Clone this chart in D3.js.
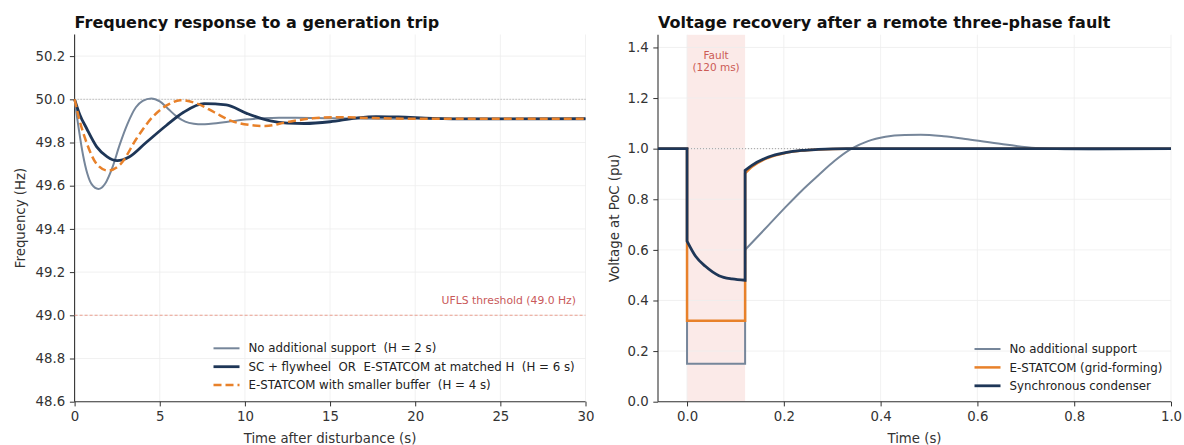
<!DOCTYPE html>
<html>
<head>
<meta charset="utf-8">
<script src="https://cdn.jsdelivr.net/npm/d3@7"></script>
<style>
  body { margin: 0; background: #fff; }
  svg text { font-family: "DejaVu Sans", sans-serif; white-space: pre; }
</style>
</head>
<body>
<svg id="chart" width="1184" height="445"></svg>
<script>
// Frequency panel: [time s, Hz]
var freqNoSupport = [[0,50.0],[0.25,49.86],[0.5,49.74],[0.75,49.655],[1.0,49.607],[1.4,49.585],[1.8,49.61],[2.2,49.68],[2.65,49.79],[3.1,49.885],[3.6,49.963],[4.0,49.993],[4.5,50.004],[5.0,49.99],[5.5,49.955],[6.0,49.92],[6.5,49.897],[7.0,49.887],[7.5,49.884],[8.0,49.887],[9.0,49.896],[10,49.906],[11,49.912],[12,49.915],[13,49.915],[15,49.912],[18,49.91],[30,49.91]];
var freqMatched = [[0,50.0],[0.3,49.93],[0.7,49.866],[1.3,49.78],[1.9,49.735],[2.5,49.716],[3.2,49.733],[4.2,49.80],[5.4,49.88],[6.4,49.94],[7.6,49.98],[8.9,49.974],[10.1,49.935],[11.5,49.90],[12.5,49.89],[13.5,49.888],[15,49.896],[16.5,49.913],[17.7,49.92],[19,49.918],[21,49.912],[23,49.909],[30,49.91]];
var freqSmallBuffer = [[0,50.0],[0.3,49.90],[0.7,49.80],[1.3,49.70],[1.95,49.67],[2.7,49.70],[3.65,49.82],[4.6,49.92],[5.6,49.98],[6.2,49.996],[7.2,49.98],[8.2,49.94],[9.2,49.90],[10.3,49.881],[11.2,49.876],[12.5,49.895],[14,49.912],[15.5,49.917],[17.5,49.913],[20,49.91],[30,49.91]];
var freqLabels = ['No additional support  (H = 2 s)', 'SC + flywheel  OR  E-STATCOM at matched H  (H = 6 s)', 'E-STATCOM with smaller buffer  (H = 4 s)'];
var freqTicksX = [0, 5, 10, 15, 20, 25, 30];
var freqTicksY = [48.6, 48.8, 49.0, 49.2, 49.4, 49.6, 49.8, 50.0, 50.2];
var nominalHz = 50.0, uflsHz = 49.0;

// Voltage panel: [time s, pu]; repeated times are the step jumps
var voltNoSupport = [[-0.06,1.0],[0,1.0],[0,0.15],[0.12,0.15],[0.12,0.60],[0.168,0.697],[0.203,0.768],[0.237,0.834],[0.271,0.894],[0.305,0.952],[0.34,1.0],[0.374,1.03],[0.41,1.047],[0.45,1.054],[0.483,1.055],[0.53,1.049],[0.58,1.037],[0.65,1.018],[0.72,1.003],[0.78,0.998],[0.85,0.997],[1.0,0.999]];
var voltStatcom = [[-0.06,1.0],[0,1.0],[0,0.32],[0.12,0.32],[0.12,0.902],[0.134,0.928],[0.168,0.964],[0.203,0.983],[0.237,0.992],[0.271,0.997],[0.33,1.0],[1.0,1.0]];
var voltCondenser = [[-0.06,1.0],[0,1.0],[0,0.635],[0.0177,0.575],[0.038,0.535],[0.066,0.498],[0.093,0.485],[0.12,0.48],[0.12,0.914],[0.134,0.934],[0.168,0.967],[0.203,0.984],[0.237,0.993],[0.271,0.997],[0.33,1.0],[1.0,1.0]];
var voltLabels = ['No additional support', 'E-STATCOM (grid-forming)', 'Synchronous condenser'];
var voltTicksX = [0.0, 0.2, 0.4, 0.6, 0.8, 1.0];
var voltTicksY = [0.0, 0.2, 0.4, 0.6, 0.8, 1.0, 1.2, 1.4];
var faultStart = 0.0, faultEnd = 0.12;

var colGray = '#76869a', colNavy = '#1e3657', colOrange = '#e8812a';
var tickFont = '13.3px', legendFont = '11.8px';

var svg = d3.select('#chart');

// draw a series made of smooth pieces joined by vertical steps
var stepPath = function (data, x, y) {
  let pieces = [[data[0]]];
  for (let i = 1; i < data.length; i++) {
    if (data[i][0] === data[i - 1][0]) pieces.push([]);
    pieces[pieces.length - 1].push(data[i]);
  }
  let line = d3.line().x(d => x(d[0])).y(d => y(d[1])).curve(d3.curveMonotoneX);
  return pieces.map((p, i) => {
    let s = p.length > 1 ? line(p) : `M${x(p[0][0])},${y(p[0][1])}`;
    return i ? 'L' + s.slice(1) : s;
  }).join('');
};

var drawAxes = function (g, x, y, ticksX, ticksY, fmtX, fmtY) {
  let [x0, x1] = x.range(), [y0, y1] = y.range();
  g.append('g').selectAll('line').data(ticksX).join('line')
    .attr('x1', d => x(d)).attr('x2', d => x(d)).attr('y1', y0).attr('y2', y1)
    .attr('stroke', '#ededed').attr('stroke-width', 0.8);
  g.append('g').selectAll('line').data(ticksY).join('line')
    .attr('x1', x0).attr('x2', x1).attr('y1', d => y(d)).attr('y2', d => y(d))
    .attr('stroke', '#ededed').attr('stroke-width', 0.8);

  let ax = g.append('g').attr('transform', `translate(0,${y0})`)
    .call(d3.axisBottom(x).tickValues(ticksX).tickFormat(fmtX).tickSize(4.7).tickPadding(5.5));
  let ay = g.append('g').attr('transform', `translate(${x0},0)`)
    .call(d3.axisLeft(y).tickValues(ticksY).tickFormat(fmtY).tickSize(4.7).tickPadding(4.7));
  [ax, ay].forEach(a => {
    a.select('.domain').attr('stroke', '#333').attr('stroke-width', 1.1);
    a.selectAll('.tick line').attr('stroke', '#333');
    a.selectAll('.tick text').attr('fill', '#333').style('font-size', tickFont);
  });
  ay.select('.domain').attr('d', `M0,${y0}V${y1}`);
  ax.select('.domain').attr('d', `M${x0},0H${x1}`);
};

var drawLegend = function (g, x, y, items) {
  items.forEach((it, i) => {
    let yy = y + i * 18.4;
    g.append('line').attr('x1', x).attr('x2', x + 26).attr('y1', yy).attr('y2', yy)
      .attr('stroke', it.color).attr('stroke-width', it.width).attr('stroke-dasharray', it.dash || null);
    g.append('text').attr('x', x + 35).attr('y', yy).attr('dy', '0.35em')
      .attr('fill', '#222').style('font-size', legendFont).text(it.label);
  });
};

// ---- left panel: frequency ----
var fx = d3.scaleLinear().domain([0, 30]).range([74.6, 585.5]);
var fy = d3.scaleLinear().domain([48.6, 50.3]).range([401.7, 34.5]);
var left = svg.append('g');

drawAxes(left, fx, fy, freqTicksX, freqTicksY, d3.format('d'), d3.format('.1f'));

left.append('line').attr('x1', fx(0)).attr('x2', fx(30)).attr('y1', fy(nominalHz)).attr('y2', fy(nominalHz))
  .attr('stroke', '#a0a0a0').attr('stroke-width', 1).attr('stroke-dasharray', '1,2');
left.append('line').attr('x1', fx(0)).attr('x2', fx(30)).attr('y1', fy(uflsHz)).attr('y2', fy(uflsHz))
  .attr('stroke', '#eb9f8f').attr('stroke-width', 1.1).attr('stroke-dasharray', '3,2');
left.append('text').attr('x', 576).attr('y', fy(uflsHz) - 11).attr('text-anchor', 'end')
  .attr('fill', '#c9595a').style('font-size', '10.8px').text('UFLS threshold (49.0 Hz)');

var fLine = d3.line().x(d => fx(d[0])).y(d => fy(d[1])).curve(d3.curveMonotoneX);
left.append('path').attr('d', fLine(freqNoSupport)).attr('fill', 'none').attr('stroke', colGray).attr('stroke-width', 2);
left.append('path').attr('d', fLine(freqMatched)).attr('fill', 'none').attr('stroke', colNavy).attr('stroke-width', 2.8);
left.append('path').attr('d', fLine(freqSmallBuffer)).attr('fill', 'none').attr('stroke', colOrange).attr('stroke-width', 2.5).attr('stroke-dasharray', '8,4');

drawLegend(left, 213.5, 348.3, [
  {label: freqLabels[0], color: colGray, width: 2},
  {label: freqLabels[1], color: colNavy, width: 2.8},
  {label: freqLabels[2], color: colOrange, width: 2.5, dash: '8,4'}
]);

left.append('text').attr('x', 74.6).attr('y', 28).attr('fill', '#111')
  .style('font-size', '16px').style('font-weight', 'bold').text('Frequency response to a generation trip');
left.append('text').attr('x', fx(15)).attr('y', 443).attr('text-anchor', 'middle')
  .attr('fill', '#333').style('font-size', tickFont).text('Time after disturbance (s)');
left.append('text').attr('transform', `translate(25,218) rotate(-90)`).attr('text-anchor', 'middle')
  .attr('fill', '#333').style('font-size', tickFont).text('Frequency (Hz)');

// ---- right panel: voltage ----
var vx = d3.scaleLinear().domain([-0.06, 1.0]).range([658, 1171]);
var vy = d3.scaleLinear().domain([0, 1.45]).range([401.7, 34.8]);
var right = svg.append('g');

right.append('rect').attr('x', vx(faultStart)).attr('y', vy(1.45)).attr('width', vx(faultEnd) - vx(faultStart))
  .attr('height', vy(0) - vy(1.45)).attr('fill', '#fbeae8');

drawAxes(right, vx, vy, voltTicksX, voltTicksY, d3.format('.1f'), d3.format('.1f'));

right.append('line').attr('x1', vx(-0.06)).attr('x2', vx(1.0)).attr('y1', vy(1.0)).attr('y2', vy(1.0))
  .attr('stroke', '#a0a0a0').attr('stroke-width', 1).attr('stroke-dasharray', '1,2');
right.append('text').attr('x', vx((faultStart + faultEnd) / 2)).attr('y', 59).attr('text-anchor', 'middle')
  .attr('fill', '#cc5b55').style('font-size', '10.5px').text('Fault');
right.append('text').attr('x', vx((faultStart + faultEnd) / 2)).attr('y', 71).attr('text-anchor', 'middle')
  .attr('fill', '#cc5b55').style('font-size', '10.5px').text('(120 ms)');

right.append('path').attr('d', stepPath(voltNoSupport, vx, vy)).attr('fill', 'none').attr('stroke', colGray).attr('stroke-width', 2);
right.append('path').attr('d', stepPath(voltStatcom, vx, vy)).attr('fill', 'none').attr('stroke', colOrange).attr('stroke-width', 2.5);
right.append('path').attr('d', stepPath(voltCondenser, vx, vy)).attr('fill', 'none').attr('stroke', colNavy).attr('stroke-width', 2.8);

drawLegend(right, 974.5, 349, [
  {label: voltLabels[0], color: colGray, width: 2},
  {label: voltLabels[1], color: colOrange, width: 2.5},
  {label: voltLabels[2], color: colNavy, width: 2.8}
]);

right.append('text').attr('x', 658).attr('y', 28).attr('fill', '#111')
  .style('font-size', '16px').style('font-weight', 'bold').text('Voltage recovery after a remote three-phase fault');
right.append('text').attr('x', vx(0.47)).attr('y', 443).attr('text-anchor', 'middle')
  .attr('fill', '#333').style('font-size', tickFont).text('Time (s)');
right.append('text').attr('transform', `translate(619,218) rotate(-90)`).attr('text-anchor', 'middle')
  .attr('fill', '#333').style('font-size', tickFont).text('Voltage at PoC (pu)');
</script>
</body>
</html>
